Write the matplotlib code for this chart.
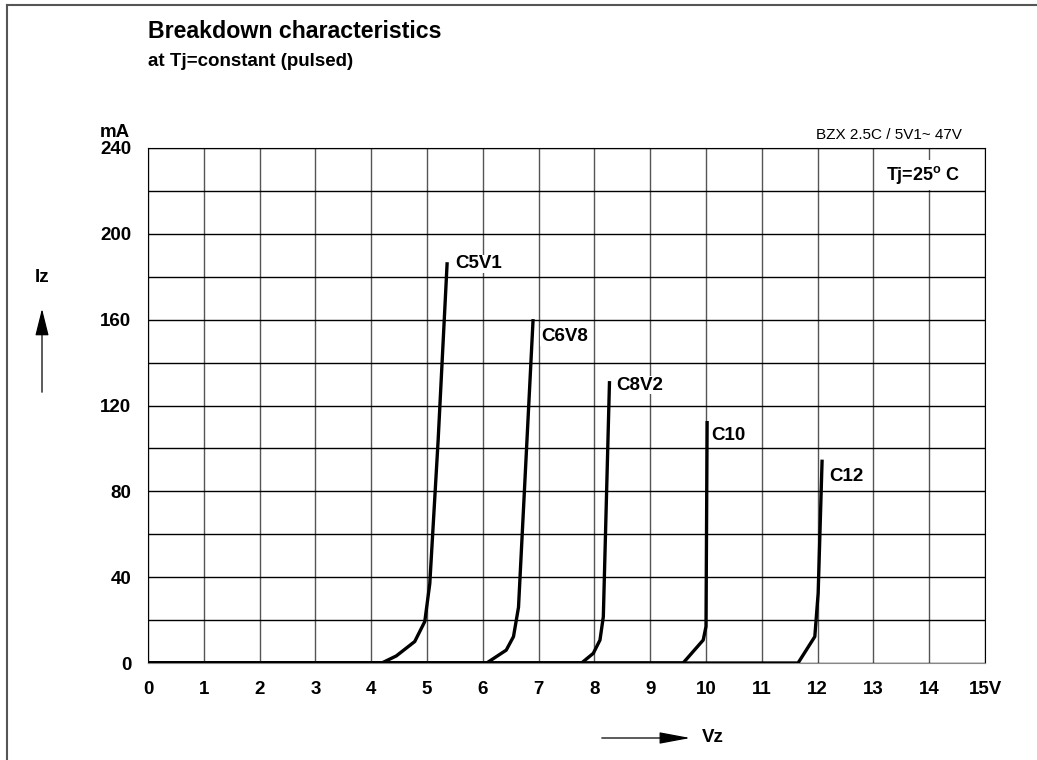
import matplotlib
matplotlib.use("Agg")
import matplotlib.pyplot as plt

plt.rcParams['font.family'] = ['Liberation Sans', 'DejaVu Sans']
plt.rcParams['font.weight'] = 'bold'
plt.rcParams['mathtext.fontset'] = 'custom'
plt.rcParams['mathtext.rm'] = 'Liberation Sans:bold'
plt.rcParams['mathtext.bf'] = 'Liberation Sans:bold'

# curves (V, mA)
c5v1_v = [0, 4.19, 4.45, 4.78, 4.96, 5.05, 5.2, 5.36]
c5v1_i = [0, 0, 3.3, 10, 19.3, 37, 104, 186]
c6v8_v = [0, 6.07, 6.42, 6.55, 6.64, 6.9]
c6v8_i = [0, 0, 6, 12.3, 26, 159.5]
c8v2_v = [0, 7.77, 7.98, 8.1, 8.16, 8.27]
c8v2_i = [0, 0, 4.5, 10.7, 21.6, 130.6]
c10_v = [0, 9.59, 9.95, 10.0, 10.02]
c10_i = [0, 0, 10.7, 17, 112]
c12_v = [0, 11.65, 11.95, 12.01, 12.08]
c12_i = [0, 0, 12.3, 32.5, 94]

curve_names = ['C5V1', 'C6V8', 'C8V2', 'C10', 'C12']
label_pos = [(5.5, 186), (7.04, 152), (8.4, 129.5), (10.1, 106), (12.2, 86.7)]

x_ticks = list(range(0, 16))
x_labels = [str(v) for v in range(0, 15)] + ['15V']
y_ticks = [0, 40, 80, 120, 160, 200, 240]

fig = plt.figure(figsize=(10.37, 7.6), dpi=100)
ax = fig.add_axes([148/1037, 1-663/760, 837/1037, 515/760])

# grid
for v in range(0, 16):
    ax.axvline(v, color='#555555', lw=1, zorder=1)
for i in range(0, 241, 20):
    ax.axhline(i, color='black', lw=1, zorder=1)

curves = [(c5v1_v, c5v1_i), (c6v8_v, c6v8_i), (c8v2_v, c8v2_i),
          (c10_v, c10_i), (c12_v, c12_i)]
for (vv, ii), name, (lx, ly) in zip(curves, curve_names, label_pos):
    ax.plot(vv, ii, color='black', lw=2.4, solid_joinstyle='round', zorder=3)
    ax.text(lx, ly, name, fontsize=13.5, ha='left', va='center', zorder=4,
            bbox=dict(facecolor='white', edgecolor='none', pad=0.5))

ax.set_xlim(0, 15)
ax.set_ylim(0, 240)
ax.set_xticks(x_ticks)
ax.set_xticklabels(x_labels)
ax.set_yticks(y_ticks)
ax.tick_params(length=0, labelsize=13.5)
ax.tick_params(axis='x', pad=13)
ax.tick_params(axis='y', pad=12)
for s in ['top', 'left', 'right']:
    ax.spines[s].set_color('black')
ax.spines['bottom'].set_color('#888888')

ax.text(-0.0215, 1.031, 'mA', transform=ax.transAxes, fontsize=13.5,
        ha='right', va='center')
ax.text(0.9725, 1.026, 'BZX 2.5C / 5V1~ 47V', transform=ax.transAxes,
        fontsize=11, fontweight='normal', ha='right', va='center')
ax.text(13.89, 227.4, r'Tj=25$^{\rm o}$ C', fontsize=13, ha='center', va='center',
        zorder=4, bbox=dict(facecolor='white', edgecolor='none', pad=3))

# titles
fig.text(148/1037, 1-32/760, 'Breakdown characteristics', fontsize=16.7,
         ha='left', va='center')
fig.text(148/1037, 1-62/760, 'at Tj=constant (pulsed)', fontsize=13.5,
         ha='left', va='center')

# axis names with arrows
fig.text(42/1037, 1-278/760, 'Iz', fontsize=13.5, ha='center', va='center')
fig.patches.append(matplotlib.patches.FancyArrowPatch(
    (42/1037, 1-395/760), (42/1037, 1-306/760), transform=fig.transFigure,
    arrowstyle='-|>,head_length=1.4,head_width=0.35', color='black', lw=0.9,
    mutation_scale=12))
fig.text(702/1037, 1-738/760, 'Vz', fontsize=13.5, ha='left', va='center')
fig.patches.append(matplotlib.patches.FancyArrowPatch(
    (599/1037, 1-738/760), (693/1037, 1-738/760), transform=fig.transFigure,
    arrowstyle='-|>,head_length=1.6,head_width=0.3', color='black', lw=0.9,
    mutation_scale=12))

# page border (left and top only)
fig.add_artist(matplotlib.lines.Line2D([7/1037, 7/1037], [0, 1-5/760],
               color='#555555', lw=1.5))
fig.add_artist(matplotlib.lines.Line2D([7/1037, 1], [1-5/760, 1-5/760],
               color='#555555', lw=1.5))

fig.savefig('out.png', dpi=100)
